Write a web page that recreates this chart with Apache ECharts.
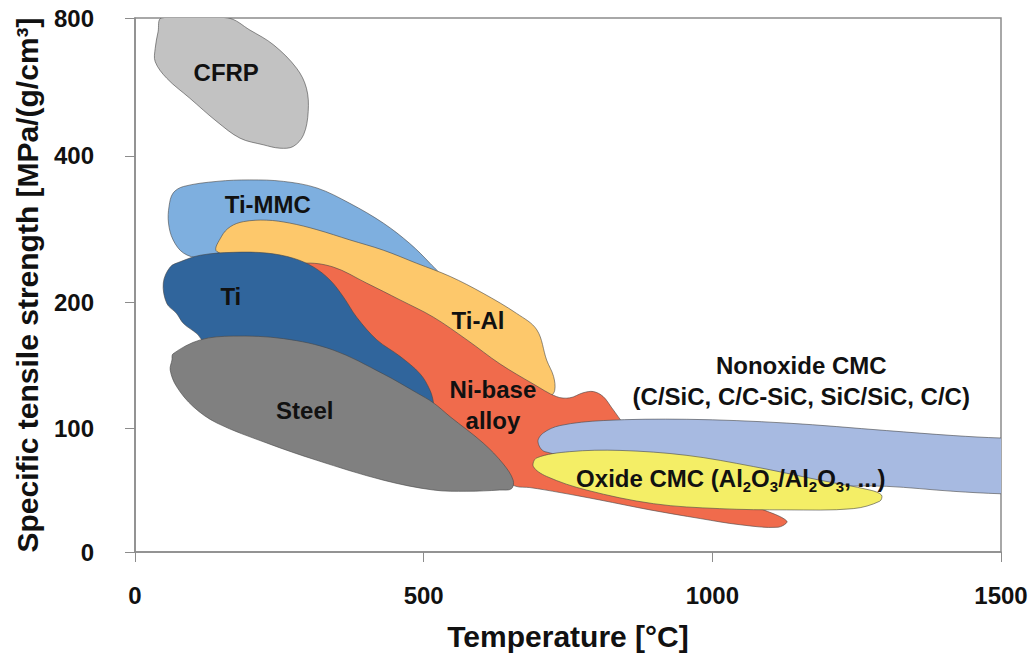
<!DOCTYPE html>
<html>
<head>
<meta charset="utf-8">
<script src="https://cdn.jsdelivr.net/npm/echarts@6/dist/echarts.min.js"></script>
<style>
html,body{margin:0;padding:0;background:#ffffff;}
#chart{width:1035px;height:657px;}
</style>
</head>
<body>
<div id="chart"></div>
<script>
// ---------- data (temperature in °C, specific strength in MPa/(g/cm³)) ----------
const yTickLabels = [0, 100, 200, 400, 800];
// the original axis is not linear: relative position of each tick along the axis
const yTickFrac = [0, 0.232, 0.468, 0.742, 1];
const xTicks = [0, 500, 1000, 1500];

const cfrp = [[46,800],[161,800],[199,765],[240,722],[280,654],[297,596],[300,528],[292,461],[274,427],[251,422],[222,432],[182,451],[142,499],[95,567],[55,625],[35,673],[35,712],[40,760]];
const tiMMC = [[66,349],[84,358],[142,365],[199,367],[257,365],[315,356],[372,335],[430,308],[476,280],[511,253],[525,239],[459,247],[286,255],[113,260],[84,267],[66,285],[58,308],[59,331]];
const tiAl = [[142,269],[150,290],[165,303],[188,310],[228,312],[268,308],[315,299],[372,285],[430,271],[488,253],[546,235],[603,212],[661,191],[696,178],[713,154],[725,141],[727,130],[719,126],[632,145],[511,172],[372,214],[251,241]];
const niBase = [[286,244],[292,253],[343,248],[401,226],[459,203],[517,188],[575,170],[632,151],[690,135],[730,125],[753,124],[776,128],[794,129],[811,125],[826,116],[849,102],[883,86],[927,66],[996,50],[1083,35],[1129,25],[1114,20],[1048,22],[979,27],[892,34],[805,42],[736,48],[684,52],[660,53],[632,60],[546,97],[459,130],[355,178],[286,223]];
const ti = [[61,248],[78,255],[113,264],[170,268],[228,267],[274,260],[309,248],[338,230],[361,207],[384,188],[419,170],[459,157],[494,143],[511,130],[517,120],[516,114],[424,129],[286,148],[164,162],[121,168],[107,175],[84,183],[72,191],[55,199],[49,226]];
const steel = [[66,159],[113,170],[170,173],[257,171],[343,162],[430,143],[488,128],[517,120],[546,109],[603,88],[638,71],[655,58],[652,51],[632,50],[575,49],[517,50],[430,58],[315,74],[228,88],[142,104],[101,117],[72,133],[61,146],[64,154]];
const nonoxideCMC = [[698,89],[707,96],[736,102],[811,106],[956,107],[1129,104],[1302,98],[1417,94],[1500,92],[1620,91],[1620,46],[1500,47],[1417,49],[1302,53],[1186,54],[979,66],[811,74],[710,81]];
const oxideCMC = [[690,69],[696,76],[753,81],[840,82],[956,78],[1071,69],[1186,58],[1273,50],[1293,46],[1290,41],[1244,35],[1129,34],[1013,35],[898,39],[782,50],[713,61]];

const labelTexts = ['CFRP','Ti-MMC','Ti','Ti-Al','Steel','Ni-base\nalloy','Nonoxide CMC\n(C/SiC, C/C-SiC, SiC/SiC, C/C)','Oxide CMC (Al{s|2}O{s|3}/Al{s|2}O{s|3}, ...)'];
const labelAnchors = [[158,641],[230,334],[166,207],[594,185],[294,114],[620,118],[1154,137],[1032,59]];

// ---------- helpers ----------
function toAxis(v) {
  const t = yTickLabels, f = yTickFrac;
  let i = 0;
  while (i < t.length - 2 && v > t[i + 1]) i++;
  return f[i] + (v - t[i]) / (t[i + 1] - t[i]) * (f[i + 1] - f[i]);
}
function tickLabel(v) {
  let best = 0;
  for (let i = 1; i < yTickFrac.length; i++) {
    if (Math.abs(yTickFrac[i] - v) < Math.abs(yTickFrac[best] - v)) best = i;
  }
  return String(yTickLabels[best]);
}

const FONT = '"Liberation Sans", Arial, Helvetica, sans-serif';
const shapes = [
  {name:'CFRP', pts:cfrp, fill:'#c2c2c2'},
  {name:'Ti-MMC', pts:tiMMC, fill:'#7eafdf'},
  {name:'Ti-Al', pts:tiAl, fill:'#fdc86b'},
  {name:'Ni-base alloy', pts:niBase, fill:'#f06b4c'},
  {name:'Ti', pts:ti, fill:'#30659c'},
  {name:'Steel', pts:steel, fill:'#808080'},
  {name:'Nonoxide CMC', pts:nonoxideCMC, fill:'#a7bae1'},
  {name:'Oxide CMC', pts:oxideCMC, fill:'#f4ee66'}
];

const series = shapes.map(s => ({
  type: 'custom',
  name: s.name,
  clip: true,
  silent: true,
  data: s.pts.map(p => [p[0], toAxis(p[1])]),
  renderItem: function (params, api) {
    if (params.dataIndex !== 0) return null;
    const n = params.dataInsideLength;
    const points = [];
    for (let i = 0; i < n; i++) {
      points.push(api.coord([api.value(0, i), api.value(1, i)]));
    }
    return {
      type: 'polygon',
      shape: {points: points, smooth: 0.35},
      style: {fill: s.fill, stroke: 'rgba(70,70,70,0.75)', lineWidth: 0.8}
    };
  }
}));

series.push({
  type: 'custom',
  name: 'labels',
  silent: true,
  data: labelAnchors.map((p, i) => [p[0], toAxis(p[1]), i]),
  renderItem: function (params, api) {
    const c = api.coord([api.value(0), api.value(1)]);
    const idx = api.value(2);
    return {
      type: 'text',
      x: c[0], y: c[1],
      style: {
        text: labelTexts[idx],
        align: 'center',
        verticalAlign: 'middle',
        fontFamily: FONT,
        fontWeight: 'bold',
        fontSize: 24,
        lineHeight: 31,
        fill: '#111111',
        rich: {
          s: {fontFamily: FONT, fontWeight: 'bold', fontSize: 15, lineHeight: 14, verticalAlign: 'bottom', fill: '#111111'}
        }
      }
    };
  }
});

const axisColor = '#8c8c8c';
const option = {
  backgroundColor: '#ffffff',
  animation: false,
  grid: {left: 135, right: 34, top: 18, bottom: 105, show: true, borderColor: axisColor, borderWidth: 1.5},
  xAxis: {
    type: 'value', min: xTicks[0], max: xTicks[xTicks.length - 1], interval: 500,
    name: 'Temperature [°C]', nameLocation: 'middle', nameGap: 69,
    nameTextStyle: {fontFamily: FONT, fontWeight: 'bold', fontSize: 30, color: '#111'},
    axisLine: {show: true, lineStyle: {color: axisColor, width: 1.5}},
    axisTick: {show: true, length: 10, lineStyle: {color: axisColor, width: 1}},
    axisLabel: {formatter: v => String(v), fontFamily: FONT, fontWeight: 'bold', fontSize: 24, color: '#111', margin: 31},
    splitLine: {show: false}
  },
  yAxis: {
    type: 'value', min: 0, max: 1,
    name: 'Specific tensile strength [MPa/(g/cm³]', nameLocation: 'middle', nameGap: 93, nameRotate: 90,
    nameTextStyle: {fontFamily: FONT, fontWeight: 'bold', fontSize: 30, color: '#111'},
    axisLine: {show: true, lineStyle: {color: axisColor, width: 1.5}},
    axisTick: {show: true, length: 10, customValues: yTickFrac, lineStyle: {color: axisColor, width: 1}},
    axisLabel: {customValues: yTickFrac, formatter: tickLabel, fontFamily: FONT, fontWeight: 'bold', fontSize: 24, color: '#111', margin: 41},
    splitLine: {show: false}
  },
  series: series
};

const chart = echarts.init(document.getElementById('chart'), null, {renderer: 'svg'});
chart.setOption(option);
</script>
</body>
</html>
